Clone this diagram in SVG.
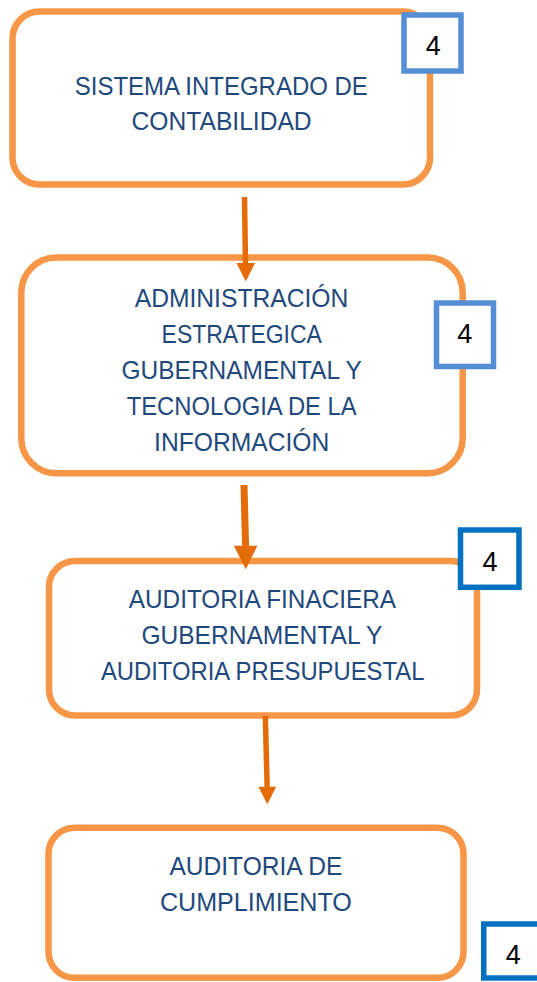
<svg xmlns="http://www.w3.org/2000/svg" width="537" height="982" viewBox="0 0 537 982">
<defs>
<style>
.box{fill:#FFFFFF;stroke:#F79646;stroke-width:6.5}
.tag1{fill:#FFFFFF;stroke:#558ED5;stroke-width:5.5}
.tag2{fill:#FFFFFF;stroke:#0070C0;stroke-width:5.5}
.lbl{font-family:"Liberation Sans",Arial,sans-serif;font-size:26px;fill:#1F497D;text-anchor:middle}
.num{font-family:"Liberation Sans",Arial,sans-serif;font-size:27px;fill:#000000;text-anchor:middle}
.shaft{stroke:#E36C09;fill:none}
.head{fill:#E36C09}
</style>
</defs>
<rect width="537" height="982" fill="#FFFFFF"/>
<g id="node1">
<rect class="box" x="12.5" y="11.5" width="417.5" height="173" rx="27" ry="27"/>
<text class="lbl" x="221.3" y="95" textLength="293" lengthAdjust="spacingAndGlyphs">SISTEMA INTEGRADO DE</text>
<text class="lbl" x="221.6" y="130" textLength="180" lengthAdjust="spacingAndGlyphs">CONTABILIDAD</text>
</g>
<g id="tag1">
<rect class="tag1" x="404" y="15" width="57" height="56"/>
<text class="num" x="433.3" y="55">4</text>
</g>
<g id="node2">
<rect class="box" x="21.3" y="257.5" width="441.4" height="215.7" rx="35" ry="35"/>
<text class="lbl" x="241.5" y="306.7" textLength="213.6" lengthAdjust="spacingAndGlyphs">ADMINISTRACIÓN</text>
<text class="lbl" x="241.7" y="342.7" textLength="160.2" lengthAdjust="spacingAndGlyphs">ESTRATEGICA</text>
<text class="lbl" x="241.7" y="379" textLength="240.3" lengthAdjust="spacingAndGlyphs">GUBERNAMENTAL Y</text>
<text class="lbl" x="241.7" y="415" textLength="230" lengthAdjust="spacingAndGlyphs">TECNOLOGIA DE LA</text>
<text class="lbl" x="241.7" y="451" textLength="175.3" lengthAdjust="spacingAndGlyphs">INFORMACIÓN</text>
</g>
<g id="tag2">
<rect class="tag1" x="436.5" y="303" width="57" height="63.5"/>
<text class="num" x="464.8" y="342.7">4</text>
</g>
<g id="node3">
<rect class="box" x="49" y="561" width="428" height="154.5" rx="26" ry="26"/>
<text class="lbl" x="262.4" y="607.7" textLength="267.3" lengthAdjust="spacingAndGlyphs">AUDITORIA FINACIERA</text>
<text class="lbl" x="261.9" y="643.7" textLength="241" lengthAdjust="spacingAndGlyphs">GUBERNAMENTAL Y</text>
<text class="lbl" x="262.7" y="680" textLength="323.5" lengthAdjust="spacingAndGlyphs">AUDITORIA PRESUPUESTAL</text>
</g>
<g id="tag3">
<rect class="tag2" x="460.5" y="530" width="58.5" height="57.3"/>
<text class="num" x="490" y="570.7">4</text>
</g>
<g id="node4">
<rect class="box" x="48.5" y="827.8" width="415" height="150" rx="26" ry="26"/>
<text class="lbl" x="255.9" y="875" textLength="172.9" lengthAdjust="spacingAndGlyphs">AUDITORIA DE</text>
<text class="lbl" x="255.9" y="911" textLength="192" lengthAdjust="spacingAndGlyphs">CUMPLIMIENTO</text>
</g>
<g id="tag4">
<rect class="tag2" x="483.75" y="924" width="57" height="54"/>
<text class="num" x="513.3" y="964">4</text>
</g>
<g id="connectors">
<line class="shaft" x1="244.5" y1="197" x2="245.5" y2="265" stroke-width="5.5"/>
<polygon class="head" points="236.5,263 255,263 245.8,281.5"/>
<line class="shaft" x1="244" y1="485" x2="245.6" y2="548" stroke-width="7"/>
<polygon class="head" points="233.8,545.7 257.4,545.7 245.8,569.3"/>
<line class="shaft" x1="265.3" y1="716" x2="267.2" y2="789" stroke-width="5.5"/>
<polygon class="head" points="258.4,786.7 276.2,786.7 267.3,804.3"/>
</g>
</svg>
